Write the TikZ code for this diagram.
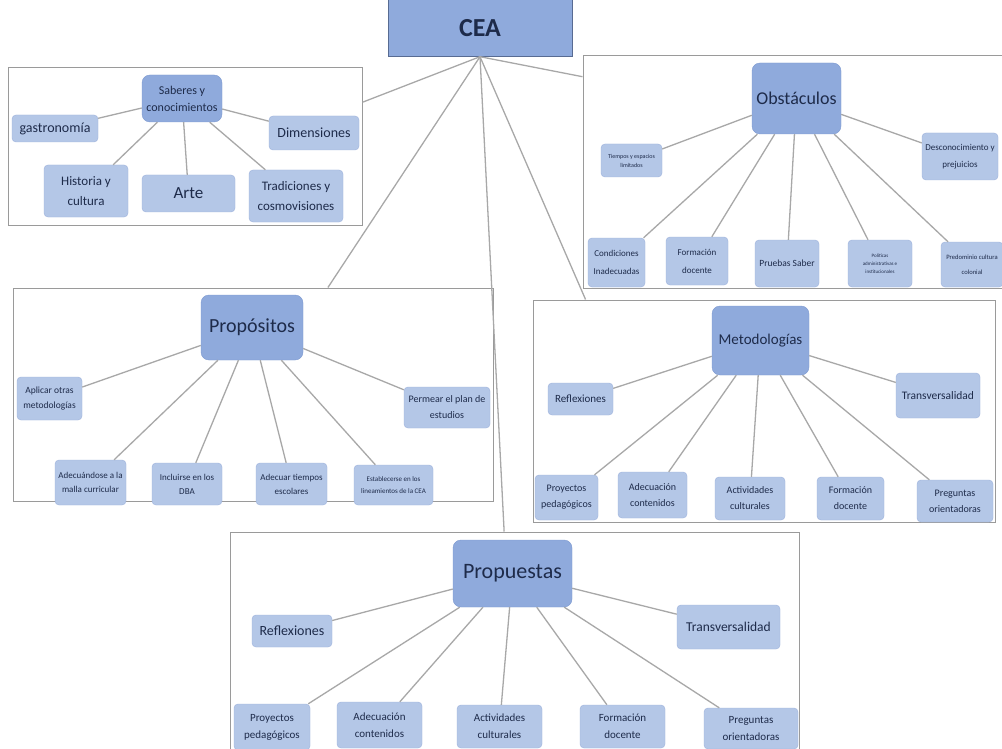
\documentclass[tikz,border=0pt]{standalone}
\usepackage{fontspec}
\setmainfont{Carlito}
\usepackage{tikz}

\definecolor{kidblue}{HTML}{B4C7E7}
\definecolor{kidline}{HTML}{9DB2DC}
\definecolor{hubblue}{HTML}{8FAADC}
\definecolor{hubline}{HTML}{7D99D0}
\definecolor{zonegray}{HTML}{9A9A9A}
\definecolor{linkgray}{HTML}{A8A8A8}
\definecolor{ink}{HTML}{1E2B4A}

\begin{document}
\begin{tikzpicture}[x=1pt, y=-1pt,
  zone/.style 2 args={draw=zonegray, fill=white, line width=1pt, minimum width=#1, minimum height=#2, inner sep=0pt},
  kid/.style 2 args={draw=kidline, fill=kidblue, rounded corners=4pt, minimum width=#1, minimum height=#2, inner sep=1pt, align=center, text=ink},
  hub/.style 2 args={draw=hubline, fill=hubblue, rounded corners=8pt, minimum width=#1, minimum height=#2, inner sep=1pt, align=center, text=ink},
  link/.style={draw=linkgray, line width=1.3pt}]

  \useasboundingbox (0,0) rectangle (1002,749);
  \clip (0,0) rectangle (1002,749);

  % Zones
  \node[zone={354}{157}] (zSab) at (185,146.5) {};
  \node[zone={427}{232}] (zObs) at (796.5,172) {};
  \node[zone={480}{213}] (zPropo) at (253,394.5) {};
  \node[zone={462}{222}] (zMet) at (764,411) {};
  \node[zone={569}{236}] (zPropu) at (514.5,650) {};

  % Top
  \node[draw=hubline!70!black, fill=hubblue, minimum width=184, minimum height=57, text=ink, font=\fontsize{26}{28}\selectfont\bfseries] (cea) at (480,28) {CEA};

  \draw[link] (cea.south) -- (zSab.14);
  \draw[link] (cea.south) -- (zObs.156);
  \draw[link] (cea.south) -- (zPropo.55);
  \draw[link] (cea.south) -- (zMet.148);
  \draw[link] (cea.south) -- (zPropu.95);

  % Saberes
  \node[hub={80}{47}, font=\fontsize{12}{17}\selectfont] (sab) at (182,98.5) {Saberes y\\conocimientos};
  \node[kid={86}{27}, font=\fontsize{14}{16}\selectfont] (gas) at (55,128.5) {gastronomía};
  \node[kid={90}{34}, font=\fontsize{14}{16}\selectfont] (dim) at (314,133) {Dimensiones};
  \node[kid={84}{52}, font=\fontsize{13}{20}\selectfont] (his) at (86,191) {Historia y\\cultura};
  \node[kid={93}{37}, font=\fontsize{17}{19}\selectfont] (arte) at (188.5,193.5) {Arte};
  \node[kid={94}{52}, font=\fontsize{13}{20}\selectfont] (trad) at (296,196) {Tradiciones y\\cosmovisiones};

  \draw[link] (sab) -- (gas);
  \draw[link] (sab) -- (dim);
  \draw[link] (sab) -- (his);
  \draw[link] (sab) -- (arte);
  \draw[link] (sab) -- (trad);

  % Obstaculos
  \node[hub={89}{71}, font=\fontsize{18}{20}\selectfont] (obs) at (796.5,98.5) {Obstáculos};
  \node[kid={61}{33}, font=\fontsize{6}{9}\selectfont] (tie) at (631.5,160.5) {Tiempos y espacios\\limitados};
  \node[kid={76}{47}, font=\fontsize{9}{17}\selectfont] (desc) at (960,156.5) {Desconocimiento y\\prejuicios};
  \node[kid={57}{49}, font=\fontsize{9}{18}\selectfont] (cond) at (616.5,262.5) {Condiciones\\Inadecuadas};
  \node[kid={62}{48}, font=\fontsize{9}{18}\selectfont] (fdo) at (697,261) {Formación\\docente};
  \node[kid={64}{47}, font=\fontsize{9.5}{11}\selectfont] (prue) at (787,263.5) {Pruebas Saber};
  \node[kid={64}{47}, font=\fontsize{5}{8}\selectfont] (pol) at (880,263.5) {Políticas\\administrativas e\\institucionales};
  \node[kid={62}{45}, font=\fontsize{6.6}{15}\selectfont] (pred) at (972,264.5) {Predominio cultura\\colonial};

  \draw[link] (obs) -- (tie);
  \draw[link] (obs) -- (desc);
  \draw[link] (obs) -- (cond);
  \draw[link] (obs) -- (fdo);
  \draw[link] (obs) -- (prue);
  \draw[link] (obs) -- (pol);
  \draw[link] (obs) -- (pred);

  % Propositos
  \node[hub={102}{65}, font=\fontsize{20}{22}\selectfont] (propo) at (252,327.5) {Propósitos};
  \node[kid={65}{43}, font=\fontsize{9.5}{15}\selectfont] (apl) at (49.5,398.5) {Aplicar otras\\metodologías};
  \node[kid={86}{41}, font=\fontsize{10}{16}\selectfont] (perm) at (447,407.5) {Permear el plan de\\estudios};
  \node[kid={71}{45}, font=\fontsize{9}{14}\selectfont] (malla) at (90.5,482.5) {Adecuándose a la\\malla curricular};
  \node[kid={70}{42}, font=\fontsize{9}{14}\selectfont] (dba) at (187,484) {Incluirse en los\\DBA};
  \node[kid={71}{42}, font=\fontsize{9}{14}\selectfont] (tiem) at (291.5,484) {Adecuar tiempos\\escolares};
  \node[kid={79}{40}, font=\fontsize{7}{12}\selectfont] (lin) at (393.5,485) {Establecerse en los\\lineamientos de la CEA};

  \draw[link] (propo) -- (apl);
  \draw[link] (propo) -- (perm);
  \draw[link] (propo) -- (malla);
  \draw[link] (propo) -- (dba);
  \draw[link] (propo) -- (tiem);
  \draw[link] (propo) -- (lin);

  % Metodologias
  \node[hub={97}{69}, font=\fontsize{15}{17}\selectfont] (met) at (760.5,340.5) {Metodologías};
  \node[kid={65}{32}, font=\fontsize{11}{13}\selectfont] (refA) at (580.5,399) {Reflexiones};
  \node[kid={84}{45}, font=\fontsize{11.5}{13}\selectfont] (trA) at (938,395.5) {Transversalidad};
  \node[kid={63}{45}, font=\fontsize{10}{16}\selectfont] (proA) at (566.5,497.5) {Proyectos\\pedagógicos};
  \node[kid={69}{46}, font=\fontsize{10}{16}\selectfont] (adA) at (652.5,495) {Adecuación\\contenidos};
  \node[kid={70}{43}, font=\fontsize{10}{16}\selectfont] (acA) at (750,498.5) {Actividades\\culturales};
  \node[kid={67}{43}, font=\fontsize{10}{16}\selectfont] (foA) at (850.5,498.5) {Formación\\docente};
  \node[kid={76}{42}, font=\fontsize{10}{16}\selectfont] (prA) at (955,501) {Preguntas\\orientadoras};

  \draw[link] (met) -- (refA);
  \draw[link] (met) -- (trA);
  \draw[link] (met) -- (proA);
  \draw[link] (met) -- (adA);
  \draw[link] (met) -- (acA);
  \draw[link] (met) -- (foA);
  \draw[link] (met) -- (prA);

  % Propuestas
  \node[hub={119}{67}, font=\fontsize{22}{24}\selectfont] (propu) at (512.5,573.5) {Propuestas};
  \node[kid={80}{32}, font=\fontsize{14}{16}\selectfont] (refB) at (292,631) {Reflexiones};
  \node[kid={103}{44}, font=\fontsize{13.5}{15}\selectfont] (trB) at (728.5,627) {Transversalidad};
  \node[kid={76}{46}, font=\fontsize{11}{17}\selectfont] (proB) at (272,727) {Proyectos\\pedagógicos};
  \node[kid={85}{46}, font=\fontsize{11}{17}\selectfont] (adB) at (379.5,725) {Adecuación\\contenidos};
  \node[kid={85}{43}, font=\fontsize{11}{17}\selectfont] (acB) at (499.5,726.5) {Actividades\\culturales};
  \node[kid={85}{43}, font=\fontsize{11}{17}\selectfont] (foB) at (622.5,726.5) {Formación\\docente};
  \node[kid={94}{41}, font=\fontsize{11}{17}\selectfont] (prB) at (751,728.5) {Preguntas\\orientadoras};

  \draw[link] (propu) -- (refB);
  \draw[link] (propu) -- (trB);
  \draw[link] (propu) -- (proB);
  \draw[link] (propu) -- (adB);
  \draw[link] (propu) -- (acB);
  \draw[link] (propu) -- (foB);
  \draw[link] (propu) -- (prB);

\end{tikzpicture}
\end{document}
